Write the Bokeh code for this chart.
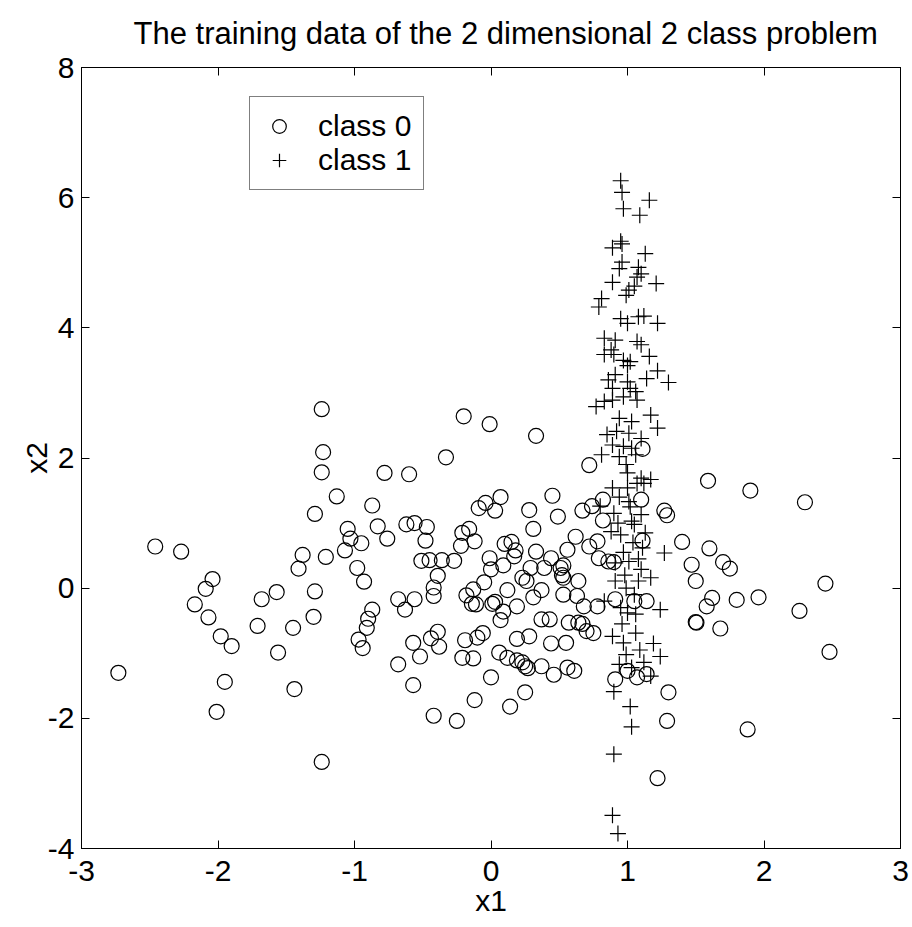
from bokeh.plotting import figure
from bokeh.models import (Range1d, FixedTicker, LinearAxis, Legend, LegendItem,
                          CustomLabelingPolicy)
from bokeh.embed import file_html
from bokeh.resources import INLINE

# ---- data ----
class0_x = [
    -2.73, -2.46, -2.27, -2.04, -2.09, -2.17, -2.07, -1.98, -1.90, -1.95, -2.01,
    -1.24, -1.23, -1.24, -1.13, -1.29,
    -1.68, -1.57, -1.71, -1.56, -1.44, -1.24,
    -1.38, -1.41, -1.21, -1.29, -1.30, -1.45,
    -1.05, -1.03, -1.07, -0.95, -0.98, -0.93, -0.97, -0.94,
    -0.87, -0.90, -0.91,
    -0.20, -0.01, 0.33, -0.33, -0.78, -0.60, -0.87, -0.83, -0.76,
    -0.62, -0.56, -0.47, -0.48,
    -0.51, -0.45, -0.36, -0.27, -0.39, -0.42, -0.42,
    -0.68, -0.56, -0.63,
    -0.57, -0.52, -0.68, -0.57,
    -0.44, -0.39, -0.38,
    -0.19, -0.10, -0.06, -0.21, -0.13, 0.00,
    -0.42, -0.25, -0.12, 0.14, 0.25,
    -0.21, -0.16, -0.12, -0.22,
    -0.09, -0.04, 0.03, 0.07,
    -0.01, 0.00, 0.09, -0.05,
    -0.13, -0.18, -0.14, -0.11,
    0.01, 0.03, 0.09, 0.07, 0.12, 0.19,
    0.10, 0.15, 0.18, 0.17,
    0.28, 0.31, 0.45, 0.49,
    0.33, 0.29, 0.44, 0.39,
    0.23, 0.26, 0.31, 0.37,
    0.51, 0.53, 0.53, 0.53,
    0.56, 0.62, 0.67,
    0.19, 0.28, 0.37, 0.43, 0.44, 0.55, 0.57, 0.64,
    0.06, 0.12, 0.19, 0.23, 0.25, 0.27,
    0.37, 0.46, 0.56, 0.61,
    0.67, 0.70, 0.75,
    0.82, 0.74, 0.82, 1.10, 1.27, 1.29, 0.72, 0.78, 0.79, 0.86, 0.90, 1.11,
    1.40, 1.60, 1.47, 1.50, 0.52, 0.64, 0.63, 0.68, 0.78, 0.91, 1.05, 1.14,
    1.50, 1.505, 1.62, 1.58, 1.68, 0.91, 1.00, 1.07, 1.14, 1.30, 1.29, 1.22,
    0.72, 1.11, 1.59,
    1.90, 2.30, 1.70, 1.75, 1.80, 1.96, 2.45, 2.26, 2.48, 1.88,
]
class0_y = [
    -1.30, 0.64, 0.56, 0.14, -0.01, -0.25, -0.45, -0.74, -0.89, -1.44, -1.90,
    2.75, 2.09, 1.78, 1.41, 1.14,
    -0.17, -0.06, -0.58, -0.99, -1.55, -2.67,
    0.51, 0.30, 0.48, -0.05, -0.44, -0.61,
    0.91, 0.76, 0.58, 0.69, 0.31, 0.10, -0.79, -0.92,
    -0.33, -0.47, -0.61,
    2.64, 2.52, 2.34, 2.01, 1.77, 1.75, 1.27, 0.95, 0.76,
    0.98, 1.00, 0.94, 0.73,
    0.42, 0.43, 0.43, 0.42, 0.19, 0.01, -0.12,
    -0.17, -0.17, -0.33,
    -0.84, -1.05, -1.17, -1.49,
    -0.77, -0.67, -0.90,
    -0.80, -0.76, -0.69, -1.07, -1.08, -1.37,
    -1.96, -2.04, -1.72, -1.82, -1.60,
    0.85, 0.91, 0.72, 0.65,
    1.23, 1.31, 1.19, 1.40,
    0.46, 0.29, 0.35, 0.09,
    -0.02, -0.11, -0.24, -0.25,
    -0.24, -0.21, -0.36, -0.49, -0.03, -0.28,
    0.68, 0.71, 0.58, 0.49,
    1.20, 0.91, 1.42, 1.10,
    0.56, 0.31, 0.46, 0.31,
    0.16, 0.11, -0.14, -0.03,
    0.31, 0.35, 0.16, -0.10,
    0.59, 0.79, 1.19,
    -0.78, -0.74, -0.48, -0.48, -0.85, -0.84, -0.53, -0.53,
    -0.99, -1.07, -1.11, -1.14, -1.20, -1.23,
    -1.20, -1.33, -1.22, -1.27,
    -0.55, -0.66, -0.69,
    1.36, 1.26, 1.04, 1.36, 1.19, 1.12, 0.64, 0.72, 0.46, 0.41, 0.40, 0.73,
    0.71, 0.61, 0.36, 0.11, 0.20, 0.11, -0.12, -0.28, -0.28, -0.17, -0.20, -0.20,
    -0.52, -0.53, -0.15, -0.28, -0.62, -1.40, -1.27, -1.37, -1.32, -1.60, -2.04, -2.92,
    1.89, 2.14, 1.65,
    1.50, 1.32, 0.40, 0.30, -0.18, -0.14, 0.07, -0.35, -0.98, -2.17,
]

class1_x = [
    0.95, 0.96, 1.16, 0.97, 1.09, 0.95, 0.96, 0.89, 1.13, 0.96, 0.94, 1.08, 1.10, 1.07,
    0.89, 1.21, 1.05, 1.01, 0.99, 0.81, 0.79, 0.95, 1.00, 1.08, 1.12, 1.22, 0.83, 0.91,
    1.07, 1.10, 0.88, 0.83, 0.90, 1.16, 0.97, 1.02, 1.00, 1.22, 0.91, 1.14, 1.30, 0.86,
    0.89, 1.00, 1.02, 1.06, 0.77, 0.83, 0.89, 0.97, 1.07, 0.94, 1.03, 1.17, 1.22, 0.85,
    0.92, 1.01, 1.10, 0.89, 0.97, 1.03, 0.81, 0.94, 1.06, 0.99, 1.00, 1.10, 1.17,
    0.89, 1.00, 1.07, 1.12, 0.80, 0.90, 1.01, 1.10, 1.03, 0.88, 0.95, 1.05, 1.11, 0.91,
    1.01, 1.10, 1.17, 1.08, 0.91, 0.83, 0.95, 1.00, 1.06, 1.24, 0.89, 1.06, 0.97, 1.19,
    1.24, 0.99, 0.94, 1.03, 1.12, 1.17, 0.90, 1.02, 1.03, 0.90, 0.89, 0.93,
    1.27, 0.97, 1.04, 0.93, 1.08, 0.98, 1.05, 0.96, 1.09, 1.02, 0.94, 1.13, 0.99,
]
class1_y = [
    6.26, 6.08, 5.96, 5.83, 5.73, 5.33, 5.29, 5.23, 5.14, 5.01, 4.91, 4.93, 4.83, 4.78,
    4.70, 4.68, 4.64, 4.58, 4.50, 4.45, 4.32, 4.14, 4.07, 4.17, 4.18, 4.07, 3.84, 3.81,
    3.79, 3.74, 3.66, 3.59, 3.59, 3.56, 3.50, 3.48, 3.42, 3.34, 3.28, 3.22, 3.16, 3.20,
    3.07, 3.17, 3.07, 3.02, 2.79, 2.87, 2.89, 2.94, 2.89, 2.61, 2.56, 2.66, 2.46, 2.36,
    2.41, 2.38, 2.30, 2.20, 2.18, 2.15, 2.05, 2.02, 2.05, 1.90, 1.77, 1.69, 1.67,
    1.54, 1.54, 1.61, 1.61, 1.26, 1.15, 1.33, 1.13, 1.03, 0.87, 0.82, 0.98, 0.62, 0.39,
    0.41, 0.29, 0.16, 0.11, 0.11, -0.20, -0.30, -0.38, -0.40, -0.33, -0.74, -0.69, -0.84, -0.85,
    -1.05, -1.02, -1.17, -1.22, -1.14, -1.35, -1.59, -1.82, -2.13, -2.55, -3.49, -3.77,
    0.54, 0.55, 0.70, 1.00, 0.45, 0.20, -0.10, -0.55, -0.95, 1.25, 1.40, 0.85, 0.00,
]

x_ticks = [-3, -2, -1, 0, 1, 2, 3]
y_ticks = [-4, -2, 0, 2, 4, 6, 8]

FONT = "Liberation Sans"
FS = "30px"

p = figure(
    width=912, height=927,
    x_range=Range1d(-3, 3), y_range=Range1d(-4, 8),
    output_backend="svg", toolbar_location=None,
    min_border_left=81, min_border_right=12, min_border_top=65, min_border_bottom=79,
    title="The training data of the 2 dimensional 2 class problem",
)
p.background_fill_color = "white"
p.border_fill_color = "white"
p.outline_line_color = "black"
p.outline_line_width = 1
p.xgrid.visible = False
p.ygrid.visible = False

p.title.text_font = FONT
p.title.text_font_size = "31px"
p.title.text_font_style = "normal"
p.title.text_color = "black"
p.title.align = "left"
p.title.offset = 52
p.title.standoff = 26


def style_axis(ax, ticks, show_labels=True):
    ax.ticker = FixedTicker(ticks=ticks)
    ax.major_tick_in = 8
    ax.major_tick_out = 0
    ax.minor_tick_in = 0
    ax.minor_tick_out = 0
    ax.axis_line_color = "black"
    ax.axis_line_width = 1
    ax.major_tick_line_color = "black"
    ax.major_tick_line_width = 1
    ax.major_label_text_font = FONT
    ax.major_label_text_color = "black"
    if show_labels:
        ax.major_label_text_font_size = FS
        ax.major_label_overrides = {t: str(t) for t in ticks}
    else:
        # box edge: ticks only, no labels are drawn
        ax.major_label_text_font_size = "1px"
        ax.major_label_standoff = 0
        ax.major_label_policy = CustomLabelingPolicy(code="return []")


xa = p.xaxis[0]
ya = p.yaxis[0]
style_axis(xa, x_ticks)
style_axis(ya, y_ticks)
xa.major_label_standoff = 12
ya.major_label_standoff = 7
xa.axis_label = "x1"
ya.axis_label = "x2"
for ax in (xa, ya):
    ax.axis_label_text_font = FONT
    ax.axis_label_text_font_size = FS
    ax.axis_label_text_font_style = "normal"
    ax.axis_label_text_color = "black"
xa.axis_label_standoff = 0
ya.axis_label_standoff = -8

top_ax = LinearAxis()
style_axis(top_ax, x_ticks, show_labels=False)
p.add_layout(top_ax, "above")
right_ax = LinearAxis()
style_axis(right_ax, y_ticks, show_labels=False)
p.add_layout(right_ax, "right")

r0 = p.scatter(class0_x, class0_y, marker="circle", size=15,
               fill_color=None, line_color="black", line_width=1.2)
r1 = p.scatter(class1_x, class1_y, marker="cross", size=16,
               line_color="black", line_width=1.2)

legend = Legend(
    items=[LegendItem(label="class 0", renderers=[r0]),
           LegendItem(label="class 1", renderers=[r1])],
    location=(168, 658),
    padding=12, spacing=0, margin=0,
    glyph_width=34, glyph_height=34, label_standoff=22,
    label_text_font=FONT, label_text_font_size=FS, label_text_color="black",
    border_line_color="black", border_line_width=1,
    background_fill_color="white", background_fill_alpha=1,
)
p.add_layout(legend)

open("out.html", "w").write(file_html(p, INLINE))
